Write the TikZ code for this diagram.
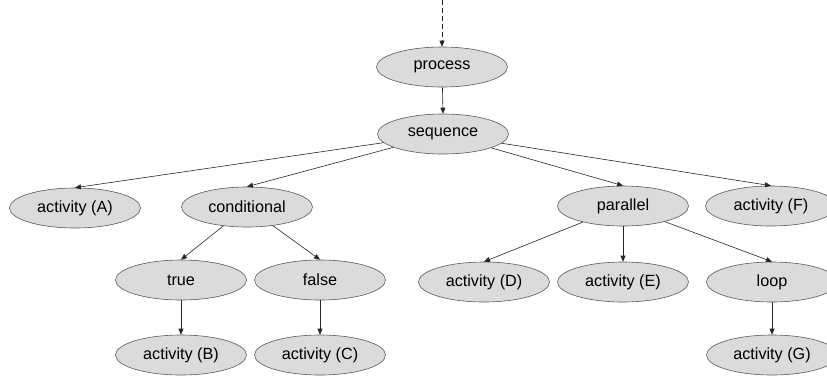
\documentclass[tikz,border=0pt]{standalone}
\usepackage{fontspec}
\setmainfont{Liberation Sans}
\usetikzlibrary{shapes.geometric,arrows.meta}
\begin{document}
\begin{tikzpicture}[x=1pt,y=-1pt,
  elem/.style={ellipse,draw=black!65,fill=gray!28,line width=0.6pt,
    minimum width=131pt,minimum height=40pt,inner sep=0pt,
    font=\fontsize{16.2}{19}\selectfont},
  link/.style={draw=black!85,line width=0.6pt,-{Triangle[length=6pt,width=5pt]}}]
\useasboundingbox (0,0) rectangle (827,376);
\clip (0,0) rectangle (827,376);

% tree of activities
\node[elem] (process) at (442,67) {process};
\node[elem] (sequence) at (443,134) {sequence};
\node[elem] (actA) at (75,208) {activity (A)};
\node[elem] (cond) at (247,207) {conditional};
\node[elem] (par) at (623,206) {parallel};
\node[elem] (actF) at (771,206) {activity (F)};
\node[elem] (true) at (181,280) {true};
\node[elem] (false) at (320,280) {false};
\node[elem] (actD) at (484,282) {activity (D)};
\node[elem] (actE) at (623,282) {activity (E)};
\node[elem] (loop) at (772,282) {loop};
\node[elem] (actB) at (181,355) {activity (B)};
\node[elem] (actC) at (320,355) {activity (C)};
\node[elem] (actG) at (772,355) {activity (G)};

% incoming control flow
\coordinate (entry) at (442,0);
\draw[link,dash pattern=on 5pt off 3pt] (entry) -- (process.north);

% connectors
\draw[link] (process) -- (sequence.north);
\draw[link] (sequence) -- (actA.north);
\draw[link] (sequence) -- (cond.north);
\draw[link] (sequence) -- (par.north);
\draw[link] (sequence) -- (actF.north);
\draw[link] (cond) -- (true.north);
\draw[link] (cond) -- (false.north);
\draw[link] (true) -- (actB.north);
\draw[link] (false) -- (actC.north);
\draw[link] (par) -- (actD.north);
\draw[link] (par) -- (actE.north);
\draw[link] (par) -- (loop.north);
\draw[link] (loop) -- (actG.north);
\end{tikzpicture}
\end{document}
